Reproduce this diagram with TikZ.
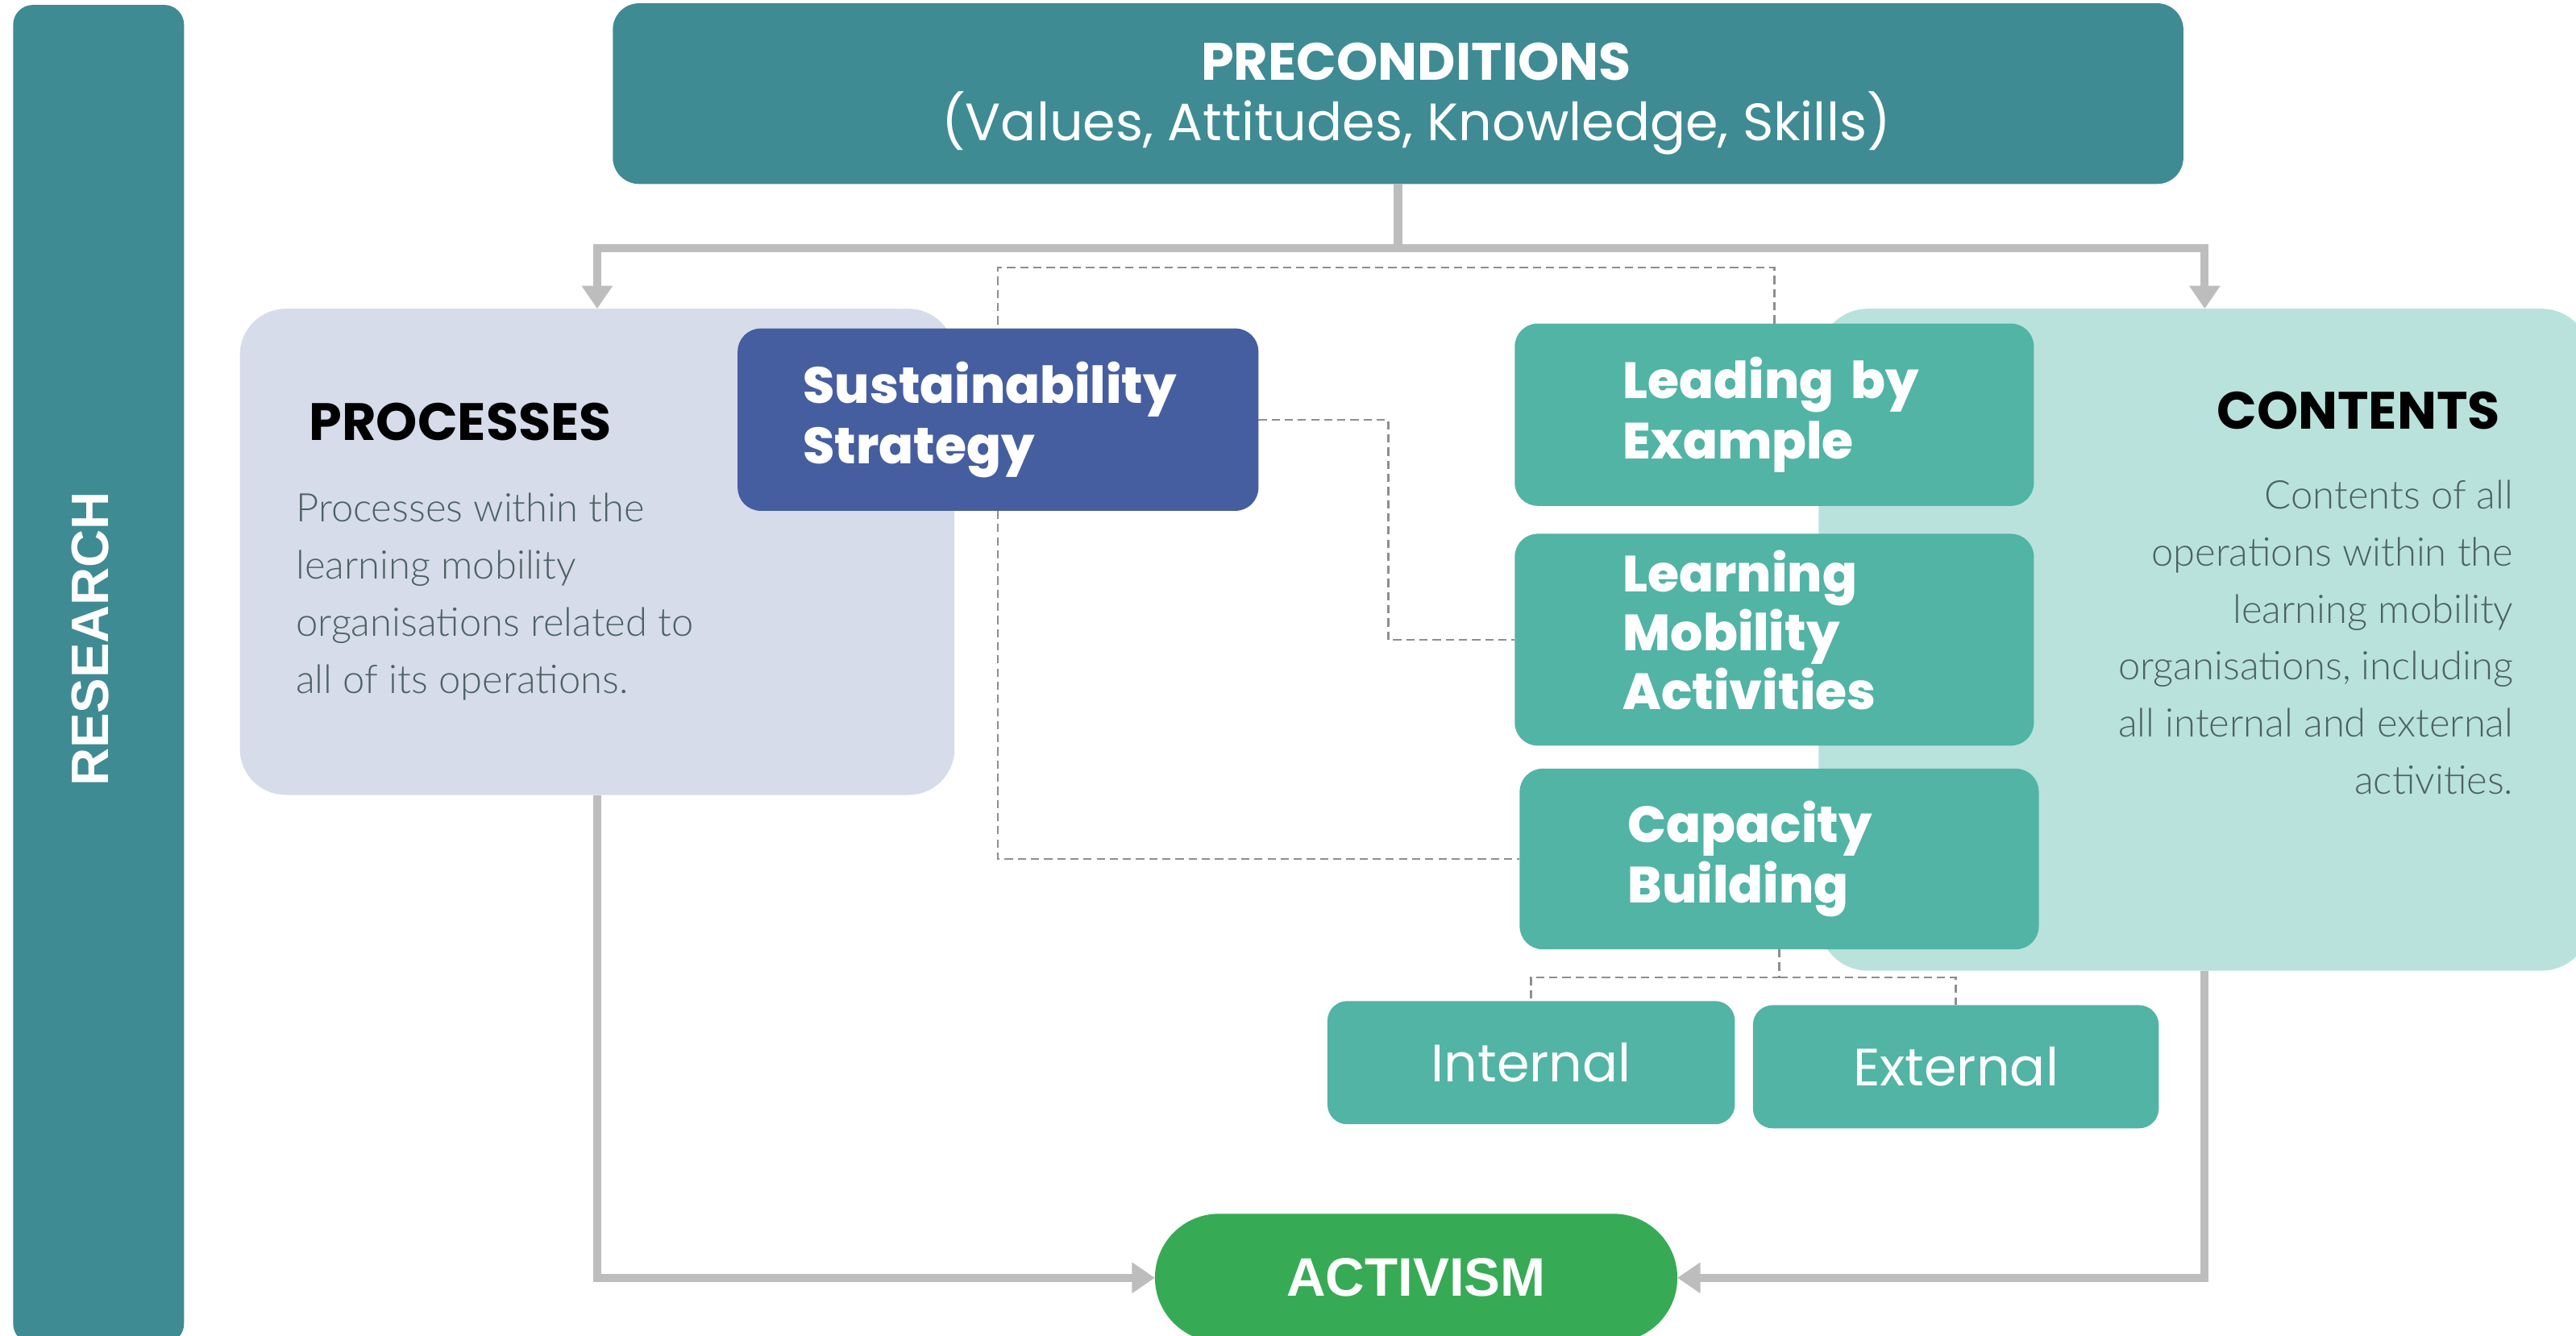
\documentclass[tikz,border=0pt]{standalone}
\usepackage{fontspec}
\setmainfont{Poppins}
\newfontfamily\popxb{Poppins ExtraBold}
\newfontfamily\latof{Lato Light}
\newfontfamily\arialf{Liberation Sans}
\usetikzlibrary{arrows.meta,backgrounds}
\definecolor{darkteal}{HTML}{3E8B93}
\definecolor{boxteal}{HTML}{51B4A5}
\definecolor{procbg}{HTML}{D6DCE9}
\definecolor{contbg}{HTML}{B9E2DC}
\definecolor{sustblue}{HTML}{455EA0}
\definecolor{actgreen}{HTML}{37AA55}
\definecolor{conngrey}{HTML}{BDBDBD}
\definecolor{dashgrey}{HTML}{8E8E8E}
\definecolor{bodytxt}{HTML}{4C6166}
\begin{document}
\begin{tikzpicture}[x=1pt,y=-1pt,
  bigbox/.style={inner sep=0pt, outer sep=0pt},
  tealbox/.style={bigbox, rounded corners=14pt, fill=boxteal, text=white,
    minimum width=316pt, minimum height=111pt, align=left, text width=184pt,
    font=\popxb\fontsize{31}{37}\selectfont},
  subbox/.style={bigbox, rounded corners=12pt, fill=boxteal, text=white,
    minimum width=248pt, minimum height=75pt, font=\fontsize{32}{37}\selectfont},
  heading/.style={inner sep=0pt, font=\fontsize{32}{35}\selectfont\bfseries, text=black},
  bodytext/.style={inner sep=0pt, text=bodytxt, font=\latof\fontsize{24}{34.8}\selectfont},
  conn/.style={draw=conngrey, line width=5pt},
  connarrow/.style={conn, -{Triangle[length=14pt,width=18pt]}},
  dashline/.style={draw=dashgrey, line width=1.2pt, dash pattern=on 5pt off 3pt}
]
\useasboundingbox (0,0) rectangle (1568,813.4);

% research side bar
\node[bigbox, rounded corners=12pt, fill=darkteal, minimum width=104pt, minimum height=815pt] (research) at (60,410.5) {};
\node[inner sep=0pt, rotate=90, text=white, font=\arialf\fontsize{32}{32}\selectfont\bfseries] (researchlbl) at (55,389) {RESEARCH};

% preconditions
\node[bigbox, rounded corners=16pt, fill=darkteal, minimum width=956pt, minimum height=110pt] (pre) at (851,57) {};
\node[inner sep=0pt, text=white, align=center, font=\fontsize{32}{37}\selectfont] (prelbl) at (862,60)
  {{\bfseries PRECONDITIONS}\\(Values, Attitudes, Knowledge, Skills)};

% background panels
\node[bigbox, rounded corners=28pt, fill=procbg, minimum width=435pt, minimum height=296pt] (proc) at (363.5,336) {};
\node[bigbox, rounded corners=30pt, fill=contbg, minimum width=470pt, minimum height=403pt] (cont) at (1342,389.5) {};

\node[heading, anchor=west] (prochead) at (188,257) {PROCESSES};
\node[bodytext, anchor=north west, align=left] (proctext) at (180,300)
  {Processes within the\\learning mobility\\organisations related to\\all of its operations.};

\node[heading, anchor=east] (conthead) at (1522,250) {CONTENTS};
\node[bodytext, anchor=north east, align=right] (conttext) at (1530,292)
  {Contents of all\\operations within the\\learning mobility\\organisations, including\\all internal and external\\activities.};

% coloured boxes
\node[tealbox, fill=sustblue, minimum width=317pt, text width=237pt] (sust) at (607.5,255.5) {Sustainability\\Strategy};
\node[tealbox] (lead) at (1080,252.5) {Leading by\\Example};
\node[tealbox, minimum height=129pt, font=\popxb\fontsize{31}{36}\selectfont] (lma) at (1080,389.5) {Learning\\Mobility\\Activities\\[-24pt]\mbox{}};
\node[tealbox, minimum height=110pt] (cap) at (1083,523) {Capacity\\Building};
\node[subbox] (int) at (932,647) {Internal};
\node[subbox, minimum width=247pt] (ext) at (1190.5,649.5) {External};

\node[bigbox, rounded corners=39pt, fill=actgreen, text=white, minimum width=318pt, minimum height=78pt,
  font=\arialf\fontsize{33}{33}\selectfont\bfseries] (act) at (862,778) {ACTIVISM};

% dashed relations
\begin{pgfonlayer}{background}
\draw[dashline] (lead.north) -- ++(0,-34) -| (sust.north);
\draw[dashline] (sust.south) |- (cap.west);
\draw[dashline] (sust.east) -- ++(79,0) |- (lma.west);
\path (cap.south) ++(0,17) coordinate (cj);
\draw[dashline] (cap.south) -- (cj) -| (int.north);
\draw[dashline] (cj) -| (ext.north);
\end{pgfonlayer}

% grey flow connectors
\coordinate (pj) at (851,151);
\draw[conn] (pre.south) -- (pj);
\draw[connarrow] (pj) -| (proc.north);
\draw[connarrow] (pj) -| (cont.north);
\draw[connarrow] (proc.south) |- (act.west);
\draw[connarrow] (cont.south) |- (act.east);
\end{tikzpicture}
\end{document}
